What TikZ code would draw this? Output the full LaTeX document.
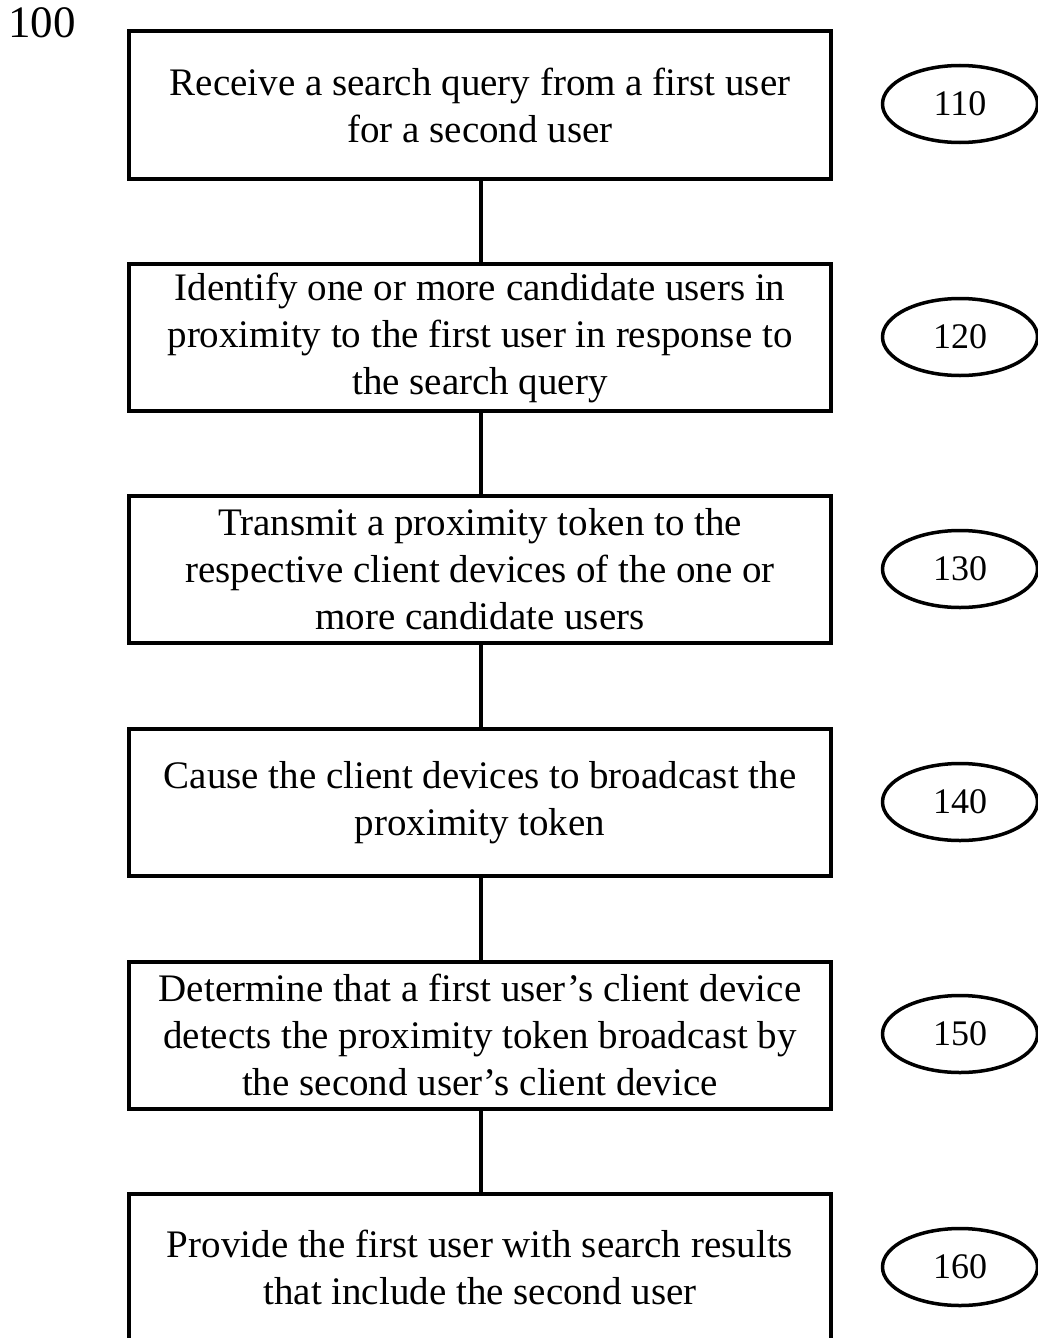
\documentclass[tikz,border=0pt]{standalone}
\usepackage{fontspec}
\setmainfont{Liberation Serif}
\usetikzlibrary{shapes.geometric}
\begin{document}
\begin{tikzpicture}[x=1pt,y=1pt,
  stepbox/.style={draw, line width=4pt, minimum width=702pt, minimum height=147pt,
    inner sep=0pt, align=center, font=\fontsize{39}{47}\selectfont},
  reflabel/.style={draw, ellipse, line width=3.5pt, minimum width=155pt, minimum height=77pt,
    inner sep=0pt, font=\fontsize{36}{40}\selectfont},
  link/.style={line width=4pt}]
\useasboundingbox (0,0) rectangle (1037,-1338);
\node[anchor=north west, inner sep=0pt, font=\fontsize{45}{48}\selectfont] (fig) at (8,-7) {100};

\node[stepbox] (s110) at (480,-105) {Receive a search query from a first user\\for a second user};
\node[stepbox] (s120) at (480,-337.5) {Identify one or more candidate users in\\proximity to the first user in response to\\the search query};
\node[stepbox] (s130) at (480,-569.5) {Transmit a proximity token to the\\respective client devices of the one or\\more candidate users};
\node[stepbox] (s140) at (480,-802.5) {Cause the client devices to broadcast the\\proximity token};
\node[stepbox] (s150) at (480,-1035) {Determine that a first user’s client device\\detects the proximity token broadcast by\\the second user’s client device};
\node[stepbox] (s160) at (480,-1267.5) {Provide the first user with search results\\that include the second user};

\draw[link] (s110.south -| 481,0) -- (s120.north -| 481,0);
\draw[link] (s120.south -| 481,0) -- (s130.north -| 481,0);
\draw[link] (s130.south -| 481,0) -- (s140.north -| 481,0);
\draw[link] (s140.south -| 481,0) -- (s150.north -| 481,0);
\draw[link] (s150.south -| 481,0) -- (s160.north -| 481,0);

\node[reflabel] (r110) at (960,-104) {110};
\node[reflabel] (r120) at (960,-337) {120};
\node[reflabel] (r130) at (960,-569) {130};
\node[reflabel] (r140) at (960,-802) {140};
\node[reflabel] (r150) at (960,-1034) {150};
\node[reflabel] (r160) at (960,-1267) {160};
\end{tikzpicture}
\end{document}
